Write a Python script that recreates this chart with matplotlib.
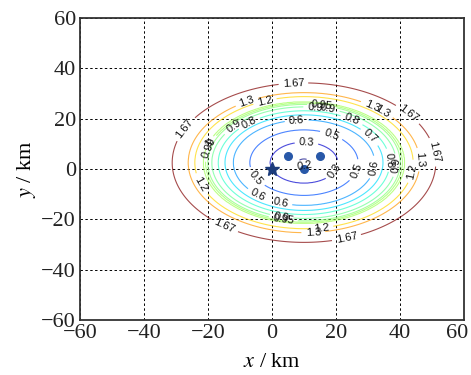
import numpy as np
import matplotlib
matplotlib.use("Agg")
import matplotlib.pyplot as plt
from matplotlib.transforms import ScaledTranslation

# contour levels and the half width (km, along x) of each closed contour
levels = [0.2, 0.3, 0.5, 0.6, 0.7, 0.8, 0.9, 0.95, 0.99, 1.0, 1.2, 1.3, 1.67]
half_width = [1.9, 10.6, 16.9, 22.1, 24.7, 26.8, 28.8, 30.1, 30.7, 31.5, 34.1, 36.2, 41.2]
center_x, center_y = 10.0, 2.5
aspect = 1.3   # x/y ratio of the contour ellipses

# stations
master_x, master_y = [0], [0]
slave_x = [5, 15, 10]
slave_y = [5, 5, 0]

# where the contour labels sit
label_pos = [(6.7, 33.8), (-28.7, 17.5), (43.1, 22.8), (51.5, 7), (-14.7, -22.1), (23.3, -27.4),
             (-7.9, 26.8), (-2.2, 26.8), (31.2, 24.8), (34.3, 22.2), (43.6, -1), (45.2, 3.6),
             (-22.5, -6.3), (12.9, -24.8), (15.5, -24.5),
             (13.5, 24.5), (15.5, 24.2), (17.5, 24.0), (-19.4, 10.3), (-20.0, 8.5),
             (37.4, 3.6), (38.2, 1.5), (3, -18.9), (3.5, -20.0),
             (-11.6, 16.2), (24.9, 19.5), (-6.9, 17.5), (31.2, 13.6), (2.5, -14.2),
             (7.7, 18.9), (30.6, 1), (-4.3, -10.2),
             (19.2, 15.6), (27, -1), (-6, -4.5),
             (10.8, 11.6), (19.2, -0.3), (10.3, 1.3)]

x = np.linspace(-60, 60, 601)
y = np.linspace(-60, 60, 601)
X, Y = np.meshgrid(x, y)
rho = np.sqrt((X - center_x)**2 + (aspect * (Y - center_y))**2)

Z = np.interp(rho, half_width, levels)
# carry the end segments on past the first and last contour
s_in = (levels[1] - levels[0]) / (half_width[1] - half_width[0])
s_out = (levels[-1] - levels[-2]) / (half_width[-1] - half_width[-2])
Z = np.where(rho < half_width[0], levels[0] - s_in * (half_width[0] - rho), Z)
Z = np.where(rho > half_width[-1], levels[-1] + s_out * (rho - half_width[-1]), Z)

plt.rcParams['font.family'] = 'Liberation Serif'
plt.rcParams['mathtext.fontset'] = 'stix'

fig = plt.figure(figsize=(4.71, 3.75), dpi=100)
ax = fig.add_axes([0.170, 0.147, 0.815, 0.805])

cs = ax.contour(X, Y, Z, levels=levels, cmap='jet', linewidths=0.8, alpha=0.7)
lbl = ax.clabel(cs, manual=label_pos, inline=True, fontsize=8, fmt='%g', colors='#111111')
for t in lbl:
    t.set_family('Liberation Sans')
    t.set_alpha(1.0)

ax.plot(slave_x, slave_y, 'o', color='#2858a8', markersize=5.5)
ax.plot(master_x, master_y, '*', color='#1c3c7c', markersize=10)

ax.set_xlim(-60, 60)
ax.set_ylim(-60, 60)
ax.set_xticks(np.arange(-60, 61, 20))
ax.set_yticks(np.arange(-60, 61, 20))
ax.grid(True, color='k', linestyle=(0, (2.5, 2.5)), linewidth=0.7)
ax.tick_params(length=0, labelsize=16, pad=3, colors='#222222')
for sp in ax.spines.values():
    sp.set_linewidth(1.3)
    sp.set_color('#333333')

# keep the last x tick label inside the figure
fig.canvas.draw()
last = ax.get_xticklabels()[-1]
last.set_transform(last.get_transform() + ScaledTranslation(-5 / 72, 0, fig.dpi_scale_trans))

ax.set_xlabel('$x$ / km', fontsize=16, labelpad=7)
ax.set_ylabel('$y$ / km', fontsize=16, labelpad=2)

fig.savefig("out.png", dpi=100)
